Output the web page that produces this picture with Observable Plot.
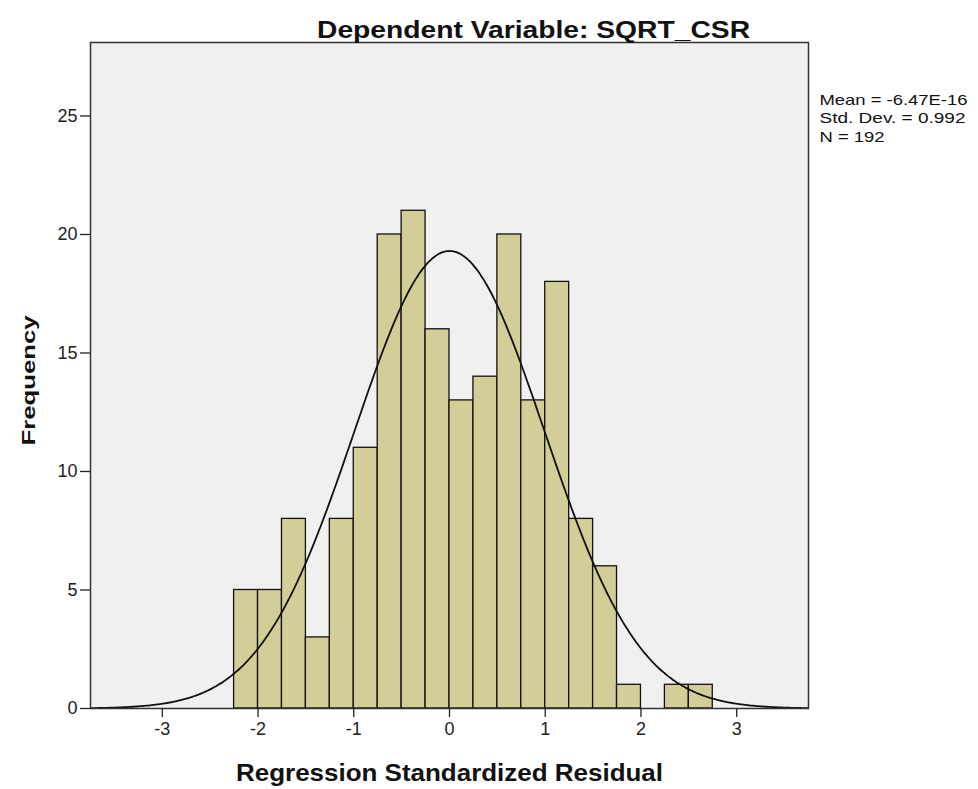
<!DOCTYPE html>
<html><head><meta charset="utf-8">
<script src="https://cdn.jsdelivr.net/npm/d3@7"></script>
<script src="https://cdn.jsdelivr.net/npm/@observablehq/plot@0.6"></script>
<style>body{margin:0;background:#fff;font-family:"Liberation Sans",Arial,sans-serif}</style>
</head><body><div id="chart"></div>
<script>
// Histogram bins (Regression Standardized Residual), width 0.25
const binStart = [-2.25,-2.0,-1.75,-1.5,-1.25,-1.0,-0.75,-0.5,-0.25,0.0,0.25,0.5,0.75,1.0,1.25,1.5,1.75,2.0,2.25,2.5];
const binEnd   = [-2.0,-1.75,-1.5,-1.25,-1.0,-0.75,-0.5,-0.25,0.0,0.25,0.5,0.75,1.0,1.25,1.5,1.75,2.0,2.25,2.5,2.75];
const counts   = [5,5,8,3,8,11,20,21,16,13,14,20,13,18,8,6,1,0,1,1];
const xTicks = [-3,-2,-1,0,1,2,3];
const yTicks = [0,5,10,15,20,25];
const statLines = ["Mean = -6.47E-16","Std. Dev. = 0.992","N = 192"];
const mean = -6.47e-16, sd = 0.992, n = 192, binWidth = 0.25;

const bins = binStart.map((s,i)=>({x1:s,x2:binEnd[i],y:counts[i]})).filter(d=>d.y>0);
// fitted normal curve from the stated mean / std. dev.
const curve = d3.range(-3.75, 3.7501, 0.02).map(x=>({x, y: n*binWidth*Math.exp(-0.5*((x-mean)/sd)**2)/(sd*Math.sqrt(2*Math.PI))}));

const font = "Liberation Sans, Arial, sans-serif";
const chart = Plot.plot({
  width: 978, height: 789,
  marginLeft: 90, marginRight: 170, marginTop: 42, marginBottom: 81,
  style: {fontFamily: font, fontSize: "18px", color: "#222", background: "#fff"},
  x: {domain: [-3.75, 3.75], ticks: xTicks},
  y: {domain: [0, 28.1], ticks: yTicks},
  marks: [
    Plot.frame({fill: "#f0f0f0"}),
    Plot.rectY(bins, {x1:"x1", x2:"x2", y:"y", fill:"#d3ce97", stroke:"#111", strokeWidth:1.3, inset:0}),
    Plot.line(curve, {x:"x", y:"y", stroke:"#111", strokeWidth:1.8, curve:"basis", clip:true}),
    Plot.frame({stroke:"#333", strokeWidth:1.5}),
    Plot.axisX({ticks: xTicks, tickSize: 9, tickPadding: 5, label: null, fontSize: 18, stroke:"#222", strokeWidth:1.3, tickFormat: d=>String(d)}),
    Plot.axisY({ticks: yTicks, tickSize: 10, tickPadding: 3, label: null, fontSize: 18, stroke:"#222", strokeWidth:1.3}),
    Plot.text(["Dependent Variable: SQRT_CSR"], {frameAnchor:"top", dx:84, dy:-12, lineAnchor:"middle", textAnchor:"middle", fontSize:23, fontWeight:"bold", fill:"#111", className:"ttl"}),
    Plot.text(["Regression Standardized Residual"], {frameAnchor:"bottom", dx:0, dy:65, lineAnchor:"middle", textAnchor:"middle", fontSize:23, fontWeight:"bold", fill:"#111", className:"xlab"}),
    Plot.text(["Frequency"], {frameAnchor:"left", dx:-62, dy:5, rotate:-90, lineAnchor:"middle", textAnchor:"middle", fontSize:19, fontWeight:"bold", fill:"#111", className:"ylab"}),
    Plot.text(statLines, {frameAnchor:"top-right", dx:0, textAnchor:"start", lineAnchor:"middle", fontSize:15, fill:"#111", className:"stat"})
  ]
});
document.getElementById("chart").append(chart);
// adjust text extents and stat line positions
const svg = d3.select(chart);
svg.selectAll(".ttl text").attr("textLength", 433).attr("lengthAdjust", "spacingAndGlyphs");
svg.selectAll(".xlab text").attr("textLength", 427).attr("lengthAdjust", "spacingAndGlyphs");
svg.selectAll(".ylab text").attr("textLength", 130).attr("lengthAdjust", "spacingAndGlyphs");
const statLen = [148, 146, 65];
svg.selectAll(".stat text").each(function(d, i){
  const t = d3.select(this);
  t.attr("textLength", statLen[i]).attr("lengthAdjust", "spacingAndGlyphs");
  t.attr("transform", `translate(819,${104 + i*18.5})`).attr("x", null).attr("y", null);
});
</script>
</body></html>
